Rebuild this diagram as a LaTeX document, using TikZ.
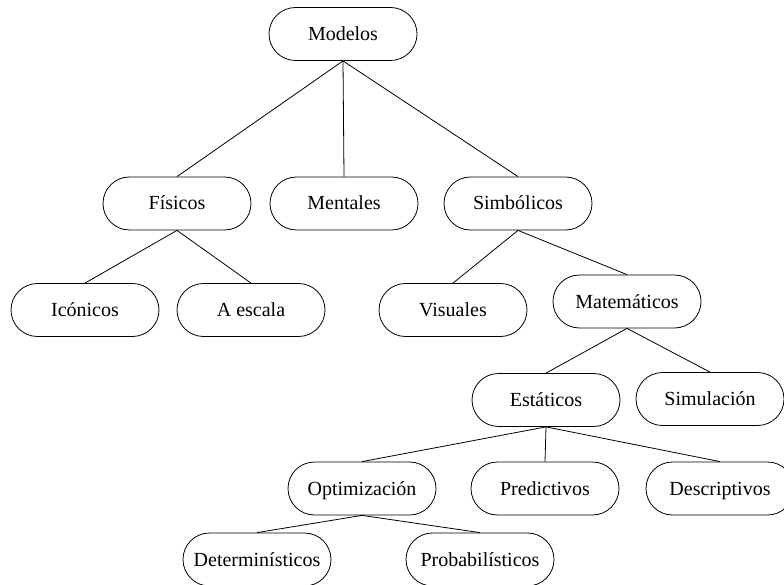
\documentclass[tikz,border=0pt]{standalone}
\usepackage{fontspec}
\setmainfont{Liberation Serif}
\begin{document}
\begin{tikzpicture}[x=1pt,y=-1pt,
  box/.style={draw, line width=0.8pt, rounded corners=26.5pt,
    minimum width=148pt, minimum height=53pt, inner sep=2pt,
    text height=14.5pt, text depth=1.5pt,
    font=\fontsize{20}{24}\selectfont},
  link/.style={line width=0.8pt}]
\useasboundingbox (0,0) rectangle (784,585);
\clip (0,0) rectangle (784,585);

% level 0
\node[box] (mod) at (343,34) {Modelos};
% level 1
\node[box] (fis) at (177,203.5) {Físicos};
\node[box] (men) at (344,203.5) {Mentales};
\node[box] (sim) at (518,203.5) {Simbólicos};
% level 2
\node[box] (ico) at (85,310) {Icónicos};
\node[box] (esc) at (251,310) {A escala};
\node[box] (vis) at (453,310) {Visuales};
\node[box] (mat) at (627,301.5) {Matemáticos};
% level 3
\node[box] (est) at (546,400) {Estáticos};
\node[box] (slm) at (710,399) {Simulación};
% level 4
\node[box] (opt) at (362,488.5) {Optimización};
\node[box] (pre) at (545,488.5) {Predictivos};
\node[box] (des) at (720,488.5) {Descriptivos};
% level 5
\node[box] (det) at (257,559.5) {Determinísticos};
\node[box] (pro) at (480,559.5) {Probabilísticos};

% tree connectors
\draw[link] (mod.south) -- (fis.north);
\draw[link] (mod.south) -- (men.north);
\draw[link] (mod.south) -- (sim.north);
\draw[link] (fis.south) -- (ico.north);
\draw[link] (fis.south) -- (esc.north);
\draw[link] (sim.south) -- (vis.north);
\draw[link] (sim.south) -- (mat.north);
\draw[link] (mat.south) -- (est.north);
\draw[link] (mat.south) -- (slm.north);
\draw[link] (est.south) -- (opt.north);
\draw[link] (est.south) -- (pre.north);
\draw[link] (est.south) -- (des.north);
\draw[link] (opt.south) -- (det.north);
\draw[link] (opt.south) -- (pro.north);
\end{tikzpicture}
\end{document}
